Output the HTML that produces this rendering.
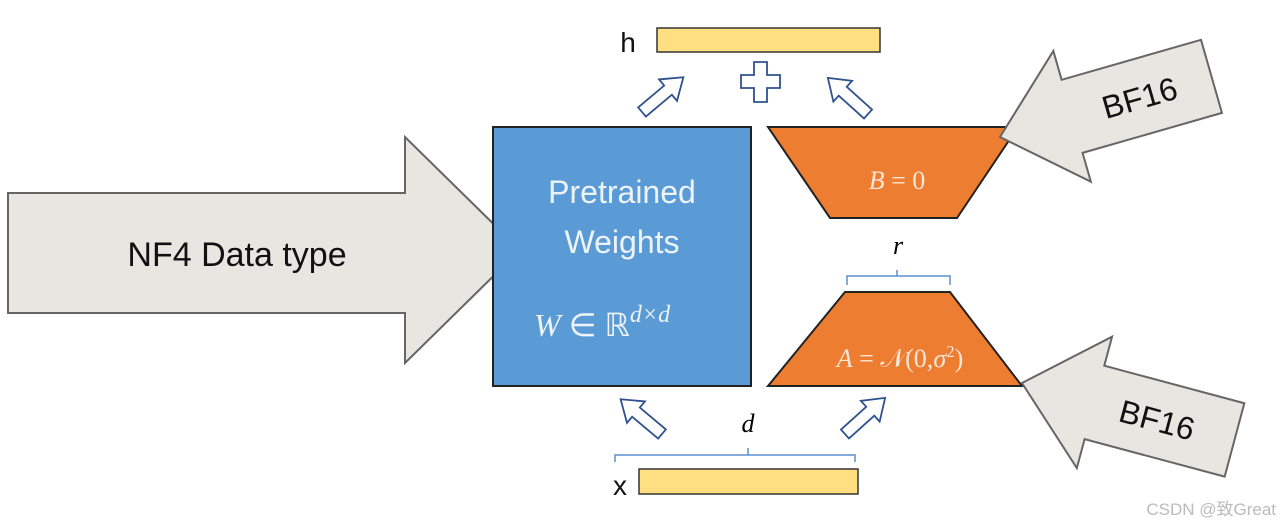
<!DOCTYPE html>
<html><head><meta charset="utf-8"><style>
html,body{margin:0;padding:0;background:#fff;width:1280px;height:528px;overflow:hidden}
</style></head><body>
<svg width="1280" height="528" viewBox="0 0 1280 528" xmlns="http://www.w3.org/2000/svg" font-family="Liberation Sans, sans-serif">
<!-- big left arrow -->
<polygon points="8,193 405,193 405,137 520,250 405,363 405,313 8,313" fill="#e7e6e0" stroke="#666" stroke-width="2"/>
<text x="237" y="266" font-size="34" text-anchor="middle" fill="#111">NF4 Data type</text>
<!-- blue box -->
<rect x="493" y="127" width="258" height="259" fill="#5b9bd5" stroke="#222" stroke-width="2"/>
<text x="622" y="203" font-size="32" text-anchor="middle" fill="#eef3fa">Pretrained</text>
<text x="622" y="253" font-size="32" text-anchor="middle" fill="#eef3fa">Weights</text>
<text x="534" y="336" font-size="32" font-family="Liberation Serif, serif" fill="#eef3fa"><tspan font-style="italic">W</tspan> ∈ ℝ<tspan font-size="24" dy="-14" font-style="italic">d×d</tspan></text>
<!-- trapezoids -->
<polygon points="768,127 1018,127 957,218 830,218" fill="#ed7d31" stroke="#222" stroke-width="2"/>
<text x="897" y="189" font-size="26" font-family="Liberation Serif, serif" text-anchor="middle" fill="#fbe7d9"><tspan font-style="italic">B</tspan> = 0</text>
<polygon points="845,292 950,292 1022,386 768,386" fill="#ed7d31" stroke="#222" stroke-width="2"/>
<text x="900" y="367" font-size="26" font-family="Liberation Serif, serif" text-anchor="middle" fill="#fbe7d9"><tspan font-style="italic">A</tspan> = 𝒩(0,<tspan font-style="italic">σ</tspan><tspan font-size="17" dy="-10">2</tspan><tspan dy="10">)</tspan></text>
<!-- braces -->
<path d="M847,285 V276 H897 V270 M897,276 H950 V285" fill="none" stroke="#5b8fd0" stroke-width="1.5"/>
<text x="898" y="254" font-size="26" font-family="Liberation Serif, serif" font-style="italic" text-anchor="middle">r</text>
<path d="M615,462 V455 H748 V448 M748,455 H855 V462" fill="none" stroke="#5b8fd0" stroke-width="1.5"/>
<text x="748" y="432" font-size="26" font-family="Liberation Serif, serif" font-style="italic" text-anchor="middle">d</text>
<!-- bars -->
<rect x="657" y="28" width="223" height="24" fill="#ffdf80" stroke="#333" stroke-width="1.5"/>
<text x="628" y="52" font-size="28" text-anchor="middle" fill="#111">h</text>
<rect x="639" y="469" width="219" height="25" fill="#ffdf80" stroke="#333" stroke-width="1.5"/>
<text x="620" y="495" font-size="28" text-anchor="middle" fill="#111">x</text>
<!-- plus -->
<path d="M754,62 h13 v13 h13 v13 h-13 v14 h-13 v-14 h-13 v-13 h13 z" fill="#fff" stroke="#2f528f" stroke-width="1.8"/>
<!-- block arrows -->
<defs><polygon id="ba" points="0,-6 34,-6 34,-14 54,0 34,14 34,6 0,6" fill="#fff" stroke="#2f528f" stroke-width="1.8"/></defs>
<use href="#ba" transform="translate(642,112) rotate(-40)"/>
<use href="#ba" transform="translate(868,114) rotate(-138)"/>
<use href="#ba" transform="translate(662,434) rotate(-140)"/>
<use href="#ba" transform="translate(845,434) rotate(-42)"/>
<!-- BF16 arrows -->
<g transform="translate(1000,137) rotate(-16)">
<polygon points="0,0 75,-68 75,-38 220,-38 220,38 75,38 75,68" fill="#e7e6e0" stroke="#666" stroke-width="2"/>
<text x="145" y="12" font-size="32" text-anchor="middle" fill="#111">BF16</text>
</g>
<g transform="translate(1022,383) rotate(15)">
<polygon points="0,0 75,-68 75,-38 220,-38 220,38 75,38 75,68" fill="#e7e6e0" stroke="#666" stroke-width="2"/>
<text x="140" y="12" font-size="32" text-anchor="middle" fill="#111">BF16</text>
</g>
<text x="1276" y="515" font-size="17" text-anchor="end" fill="#bbb" font-family="Liberation Sans, Noto Sans CJK SC, sans-serif">CSDN @致Great</text>
</svg>
</body></html>
